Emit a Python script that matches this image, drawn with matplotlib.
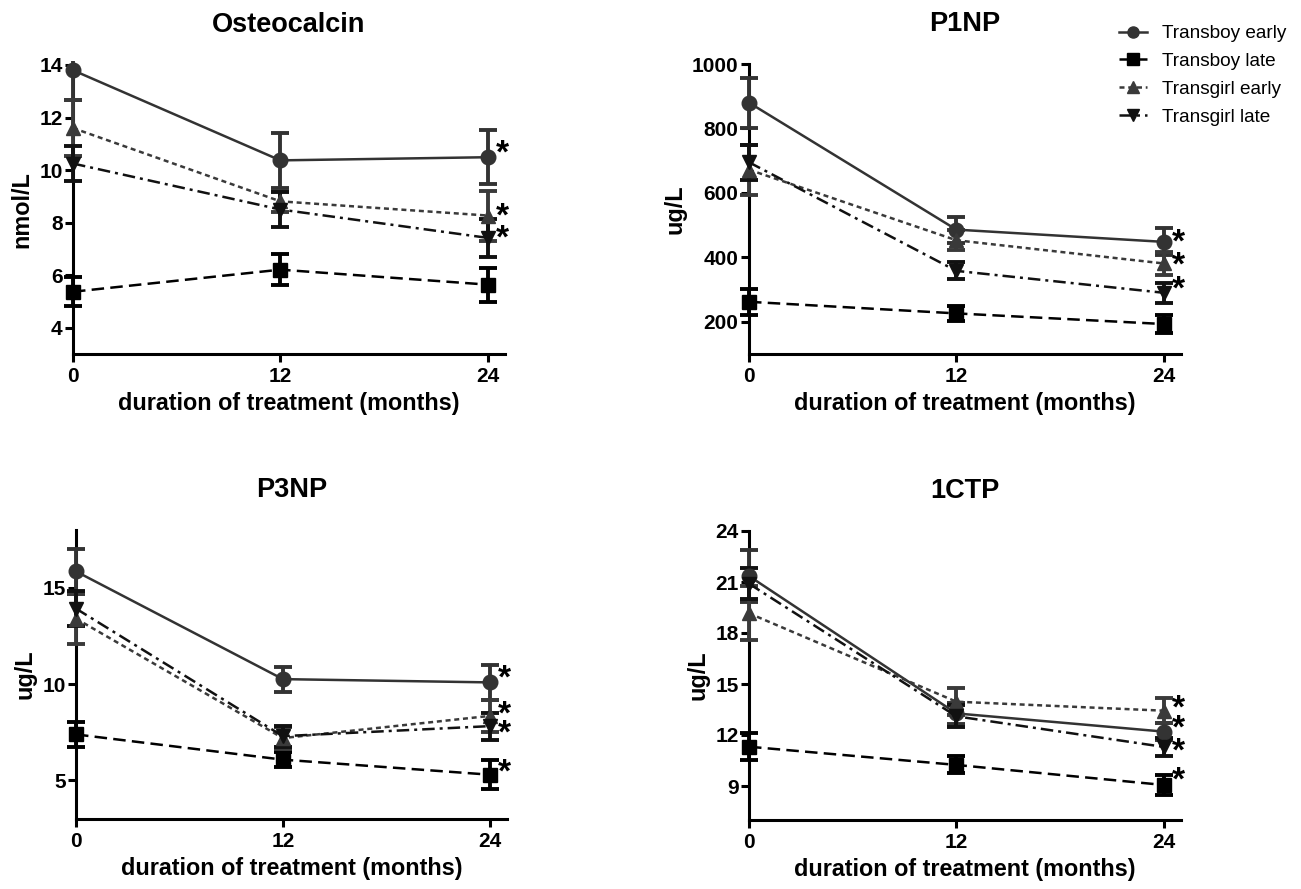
import matplotlib
matplotlib.use("Agg")
import matplotlib.pyplot as plt
from matplotlib.patches import Rectangle
from matplotlib.lines import Line2D
from matplotlib.transforms import offset_copy

plt.rcParams['font.family'] = ['Liberation Sans', 'DejaVu Sans']

months = [0, 12, 24]
groups = ["Transboy early", "Transboy late", "Transgirl early", "Transgirl late"]

titles = ["Osteocalcin", "P1NP", "P3NP", "1CTP"]
ylabels = ["nmol/L", "ug/L", "ug/L", "ug/L"]

# Osteocalcin (nmol/L)
osteo_mean = {
    "Transboy early": [13.8, 10.37, 10.49],
    "Transboy late": [5.37, 6.21, 5.64],
    "Transgirl early": [11.6, 8.81, 8.27],
    "Transgirl late": [10.25, 8.5, 7.42],
}
osteo_err = {
    "Transboy early": [1.13, 1.05, 1.02],
    "Transboy late": [0.55, 0.58, 0.65],
    "Transgirl early": [1.05, 0.4, 0.95],
    "Transgirl late": [0.65, 0.65, 0.72],
}
osteo_star = [10.84, 8.45, 7.6]

# P1NP (ug/L)
p1np_mean = {
    "Transboy early": [880, 486, 448],
    "Transboy late": [262, 226, 193],
    "Transgirl early": [672, 453, 381],
    "Transgirl late": [695, 358, 290],
}
p1np_err = {
    "Transboy early": [78, 40, 42],
    "Transboy late": [41, 23, 29],
    "Transgirl early": [78, 31, 36],
    "Transgirl late": [55, 26, 31],
}
p1np_star = [463, 391, 319]

# P3NP (ug/L)
p3np_mean = {
    "Transboy early": [15.85, 10.26, 10.09],
    "Transboy late": [7.39, 6.08, 5.3],
    "Transgirl early": [13.4, 7.2, 8.35],
    "Transgirl late": [13.92, 7.3, 7.82],
}
p3np_err = {
    "Transboy early": [1.15, 0.65, 0.9],
    "Transboy late": [0.65, 0.4, 0.75],
    "Transgirl early": [1.3, 0.55, 0.85],
    "Transgirl late": [0.9, 0.55, 0.7],
}
p3np_star = [10.6, 8.69, 7.74, 5.73]

# 1CTP (ug/L)
ctp_mean = {
    "Transboy early": [21.35, 13.27, 12.2],
    "Transboy late": [11.31, 10.24, 9.06],
    "Transgirl early": [19.16, 13.96, 13.43],
    "Transgirl late": [20.9, 13.1, 11.3],
}
ctp_err = {
    "Transboy early": [1.55, 0.6, 0.5],
    "Transboy late": [0.8, 0.5, 0.6],
    "Transgirl early": [1.6, 0.8, 0.75],
    "Transgirl late": [0.9, 0.65, 0.55],
}
ctp_star = [13.86, 12.73, 11.35, 9.65]

panels = [
    (osteo_mean, osteo_err, osteo_star, (3, 14), [4, 6, 8, 10, 12, 14]),
    (p1np_mean, p1np_err, p1np_star, (100, 1000), [200, 400, 600, 800, 1000]),
    (p3np_mean, p3np_err, p3np_star, (3, 18), [5, 10, 15]),
    (ctp_mean, ctp_err, ctp_star, (7, 24), [9, 12, 15, 18, 21, 24]),
]

styles = {
    "Transboy early": dict(color="#333333", ls="-", marker="o"),
    "Transboy late": dict(color="#000000", ls=(0, (5, 2.5)), marker="s"),
    "Transgirl early": dict(color="#3a3a3a", ls=(0, (2, 1.5)), marker="^"),
    "Transgirl late": dict(color="#111111", ls=(0, (5, 2, 1.2, 2)), marker="v"),
}

W, H = 1301, 889
rects_px = [
    (73, 65, 505, 354),
    (749, 64, 1181, 354),
    (76, 530, 507, 819),
    (749, 531, 1181, 820),
]

STAR_FS = 24

fig = plt.figure(figsize=(W / 100, H / 100), dpi=100)

for i, (means, errs, stars, ylim, yticks) in enumerate(panels):
    x0, y0, x1, y1 = rects_px[i]
    ax = fig.add_axes([x0 / W, 1 - y1 / H, (x1 - x0) / W, (y1 - y0) / H])
    clip = Rectangle((-0.06, -0.02), 1.2, 1.035, transform=ax.transAxes)
    for g in groups:
        st = styles[g]
        line, caps, bars = ax.errorbar(
            months, means[g], yerr=errs[g], color=st["color"], ls=st["ls"],
            marker=st["marker"], markersize=10.5, lw=1.8, elinewidth=2.8,
            capsize=6.5, capthick=2.8, ecolor=st["color"], zorder=3)
        for a in [line, *caps, *bars]:
            a.set_clip_path(clip)
    star_tr = offset_copy(ax.transData, fig=fig, x=0, y=-0.44 * STAR_FS,
                          units="points")
    for s in stars:
        ax.text(24.45, s, "*", fontsize=STAR_FS, fontweight="bold", ha="left",
                va="baseline", clip_on=False, transform=star_tr)
    ax.set_xlim(0, 25)
    ax.set_ylim(*ylim)
    ax.set_xticks(months)
    ax.set_yticks(yticks)
    for side in ["top", "right"]:
        ax.spines[side].set_visible(False)
    for side in ["left", "bottom"]:
        ax.spines[side].set_linewidth(2.2)
    ax.tick_params(axis="both", width=2.2, length=6, labelsize=15)
    ax.tick_params(axis="x", pad=3.5)
    ax.tick_params(axis="y", pad=1.5)
    for lab in ax.get_xticklabels() + ax.get_yticklabels():
        lab.set_fontweight("bold")
    ax.set_title(titles[i], fontsize=19.5, fontweight="bold", pad=24)
    ax.set_xlabel("duration of treatment (months)", fontsize=16.8,
                  fontweight="bold", labelpad=4)
    ax.set_ylabel(ylabels[i], fontsize=16.8, fontweight="bold", labelpad=4)

handles = []
for g in groups:
    st = styles[g]
    handles.append(Line2D([], [], color=st["color"], ls=st["ls"],
                          marker=st["marker"], markersize=8, lw=1.8))
fig.legend(handles, groups, loc="upper left",
           bbox_to_anchor=(1119 / W, 1 - 25 / H), frameon=False,
           fontsize=13.7, handlelength=1.45, labelspacing=0.55,
           handletextpad=0.8, borderpad=0, borderaxespad=0)

fig.savefig("out.png", dpi=100)
